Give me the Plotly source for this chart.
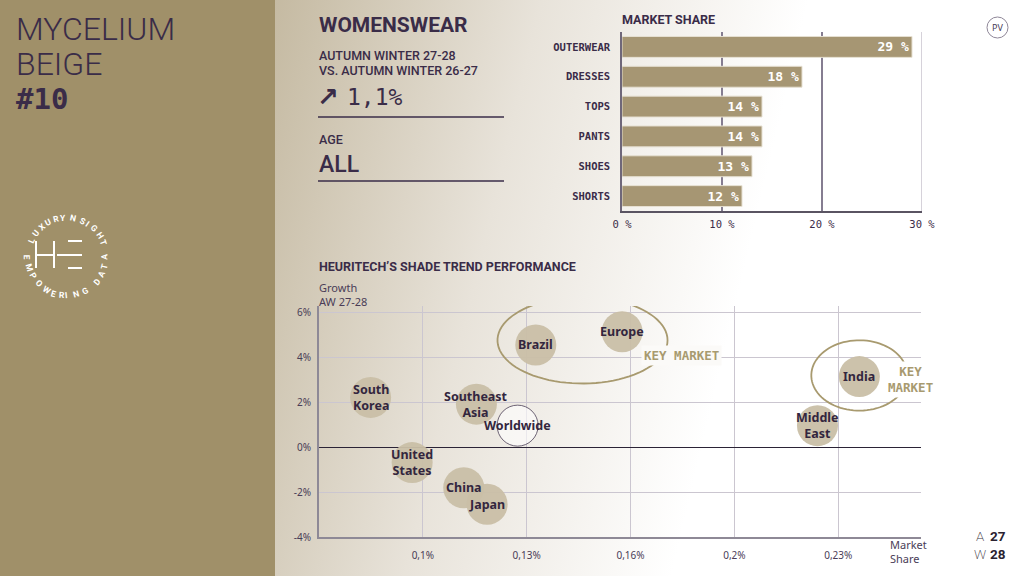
import base64
import numpy as np
import plotly.graph_objects as go

# ---- data ----
categories = ["OUTERWEAR", "DRESSES", "TOPS", "PANTS", "SHOES", "SHORTS"]
market_share = [29, 18, 14, 14, 13, 12]

regions = ["South<br>Korea", "United<br>States", "Southeast<br>Asia", "China", "Japan",
           "Brazil", "Europe", "Middle<br>East", "India"]
region_share = [0.0839, 0.0967, 0.1165, 0.1126, 0.1198, 0.1348, 0.1614, 0.2216, 0.2345]
region_growth = [2.23, -0.68, 1.93, -1.80, -2.54, 4.57, 5.16, 0.97, 3.16]
worldwide_share = 0.1292
worldwide_growth = 0.97

share_ticks = [0.1, 0.132, 0.164, 0.196, 0.228]
share_labels = ["0,1%", "0,13%", "0,16%", "0,2%", "0,23%"]
growth_ticks = [-4, -2, 0, 2, 4, 6]
growth_labels = ["-4%", "-2%", "0%", "2%", "4%", "6%"]
bar_ticks = [0, 10, 20, 30]
bar_labels = ["0 %", "10 %", "20 %", "30 %"]

# ---- style ----
W, H = 1024, 576
DARK = "#3a2c48"
PANEL = "#a09069"
BAR = "#a69673"
BUBBLE = "#c9bfa7"
GOLD = "#a89a6f"
SANS = "Roboto"
MONO = "DejaVu Sans Mono"
LABEL = "Noto Sans"


def px(x):
    return x / W


def py(y):
    return 1 - y / H


fig = go.Figure()

# market share bars
fig.add_trace(go.Bar(
    x=market_share, y=categories, orientation="h",
    marker=dict(color=BAR, line=dict(color="#e6e0d2", width=1)),
    texttemplate="%{x} %", textposition="inside", insidetextanchor="end",
    textangle=0, constraintext="none",
    textfont=dict(family=MONO, size=13, color="white", weight="bold"),
    xaxis="x", yaxis="y", hoverinfo="skip",
))

# bubbles
fig.add_trace(go.Scatter(
    x=region_share, y=region_growth, mode="markers",
    marker=dict(size=41, color=BUBBLE, opacity=0.95, line=dict(width=0)),
    xaxis="x2", yaxis="y2", hoverinfo="skip",
))
fig.add_trace(go.Scatter(
    x=[worldwide_share], y=[worldwide_growth], mode="markers",
    marker=dict(size=41, color="rgba(255,255,255,0.6)", line=dict(color="#4a3f55", width=0.8)),
    xaxis="x2", yaxis="y2", hoverinfo="skip",
))

# background gradient as svg image
svg = ('<svg xmlns="http://www.w3.org/2000/svg" width="1024" height="576" viewBox="0 0 1024 576" '
       'preserveAspectRatio="none"><defs><linearGradient id="g" gradientUnits="userSpaceOnUse" '
       'x1="275" y1="0" x2="780" y2="120"><stop offset="0" stop-color="#c5baa2"/>'
       '<stop offset="0.5" stop-color="#e8e3da"/><stop offset="1" stop-color="#ffffff"/>'
       '</linearGradient></defs><rect x="0" y="0" width="1024" height="576" fill="url(#g)"/></svg>')
bg_uri = "data:image/svg+xml;base64," + base64.b64encode(svg.encode()).decode()

shapes = []
# left panel
shapes.append(dict(type="rect", xref="paper", yref="paper", x0=0, x1=px(275), y0=0, y1=1,
                   fillcolor=PANEL, line=dict(width=0), layer="below"))
# header rules
for yy in [117, 181]:
    shapes.append(dict(type="line", xref="paper", yref="paper", x0=px(318), x1=px(504),
                       y0=py(yy), y1=py(yy), line=dict(color=DARK, width=1.5)))
# light gridline at 30 %
shapes.append(dict(type="line", xref="x", yref="y domain", x0=30, x1=30, y0=0, y1=1,
                   line=dict(color="#d6d2da", width=2)))
# PV badge
shapes.append(dict(type="circle", xref="paper", yref="paper", x0=px(987), x1=px(1008),
                   y0=py(38), y1=py(17), line=dict(color="#8f8798", width=1)))


# key market ellipses
def ellipse_path(cx, cy, rx, ry, n=90):
    t = np.linspace(0, 2 * np.pi, n)
    xs = cx + rx * np.cos(t)
    ys = cy + ry * np.sin(t)
    return "M " + " L ".join(f"{a},{b}" for a, b in zip(xs, ys)) + " Z"


shapes.append(dict(type="path", xref="x2", yref="y2",
                   path=ellipse_path(0.1492, 4.78, 0.0262, 1.93),
                   line=dict(color=GOLD, width=1.8)))
shapes.append(dict(type="path", xref="x2", yref="y2",
                   path=ellipse_path(0.2345, 3.21, 0.0148, 1.57),
                   line=dict(color=GOLD, width=1.8)))

# HE logo lines
logo_lines = [(36, 241, 36, 268), (36, 255, 54, 255), (54, 241, 54, 268),
              (68, 241, 82, 241), (57, 255, 82, 255), (68, 268, 82, 268)]
for x0, y0, x1, y1 in logo_lines:
    shapes.append(dict(type="line", xref="paper", yref="paper", x0=px(x0), x1=px(x1),
                       y0=py(y0), y1=py(y1), line=dict(color="white", width=2)))

ann = []

# bubble labels
label_font = dict(family=LABEL, size=12.5, color="#33263e", weight="bold")
for name, sx, gy in zip(regions + ["Worldwide"], region_share + [worldwide_share],
                        region_growth + [worldwide_growth]):
    ann.append(dict(x=sx, y=gy, xref="x2", yref="y2", text=name, showarrow=False,
                    font=label_font))


def text(x, y, s, size, color=DARK, family=SANS, weight="normal", xanchor="left", **kw):
    ann.append(dict(x=px(x), y=py(y), xref="paper", yref="paper", text=s, showarrow=False,
                    xanchor=xanchor, yanchor="middle", align=xanchor if xanchor != "center" else "center",
                    font=dict(family=family, size=size, color=color, weight=weight), **kw))


text(14, 29, "MYCELIUM", 32, weight=300)
text(14, 64, "BEIGE", 32, weight=300)
text(14, 99, "#10", 29, family=MONO, weight="bold")

text(317, 25, "WOMENSWEAR", 21, weight="bold")
text(317, 56, "AUTUMN WINTER 27-28", 12.5, weight=500)
text(317, 70, "VS. AUTUMN WINTER 26-27", 12.5, weight=500)
text(315, 97, "↗", 26, family="DejaVu Sans", weight="bold")
text(345, 97, "1,1%", 23, family=MONO)
text(317, 139, "AGE", 12.5, weight=500)
text(317, 164, "ALL", 23, weight=500)

text(620, 20, "MARKET SHARE", 12.5, weight="bold")
text(317, 266, "HEURITECH’S SHADE TREND PERFORMANCE", 12.5, weight="bold")
text(317, 294, "Growth<br>AW 27-28", 11, color="#4a3d57", family=LABEL)
text(888, 551, "Market<br>Share", 11, color="#4a3d57", family=LABEL)

text(641, 355, "KEY MARKET", 12.5, color=GOLD, family=MONO, weight="bold",
     bgcolor="#fbfaf8", borderpad=2)
text(910, 379, "KEY<br>MARKET", 12.5, color=GOLD, family=MONO, weight="bold",
     xanchor="center", bgcolor="#ffffff", borderpad=2)

text(997.5, 27.5, "PV", 9, color="#4a3d57", family=LABEL, xanchor="center")

# season badge
text(980, 545, "A<br>W", 13.5, color="#3a3440", weight=200, xanchor="center")
text(998, 545, "27<br>28", 13.5, color="#2a2230", weight="bold", xanchor="center")


# circular logo text, spaced by rough glyph widths
def glyph_w(ch):
    return {"I": 0.45, " ": 0.6, "M": 1.25, "W": 1.3}.get(ch, 1.0)


def ring(word, start, span, sign, rot):
    widths = [glyph_w(c) for c in word]
    total = sum(widths) - (widths[0] + widths[-1]) / 2
    acc = 0
    for i, ch in enumerate(word):
        if i > 0:
            acc += (widths[i - 1] + widths[i]) / 2
        th = start + sign * span * acc / total
        t = np.deg2rad(th)
        ann.append(dict(x=px(58.5 + 39 * np.cos(t)), y=py(256.5 - 39 * np.sin(t)),
                        xref="paper", yref="paper", text=ch, showarrow=False,
                        textangle=rot - th,
                        font=dict(family=SANS, size=8.5, color="white", weight="bold")))


ring("LUXURYNSIGHT", 156, 136, -1, 90)
ring("EMPOWERING DATA", 181, 178, 1, 270)

fig.update_layout(
    width=W, height=H, margin=dict(l=0, r=0, t=0, b=0, pad=0, autoexpand=False),
    paper_bgcolor="white", plot_bgcolor="rgba(0,0,0,0)",
    showlegend=False, bargap=0.3,
    images=[dict(source=bg_uri, xref="paper", yref="paper", x=0, y=1, sizex=1, sizey=1,
                 xanchor="left", yanchor="top", sizing="stretch", layer="below")],
    shapes=shapes, annotations=ann,
    xaxis=dict(domain=[px(622), px(922)], range=[0, 30], anchor="y", automargin=False,
               tickvals=bar_ticks, ticktext=bar_labels, showgrid=True, gridcolor="#857d91",
               gridwidth=1.5, zeroline=False, showline=True, linecolor="#5a5462", linewidth=1.5,
               tickfont=dict(family=MONO, size=10.5, color=DARK), ticklabelstandoff=3),
    yaxis=dict(domain=[py(211), py(32)], anchor="x", categoryorder="array", automargin=False,
               categoryarray=categories[::-1], showgrid=False, showline=True,
               linecolor="#6f6779", linewidth=1.5,
               tickfont=dict(family=MONO, size=10.5, color=DARK, weight="bold"), ticklabelstandoff=8),
    xaxis2=dict(domain=[px(319), px(921)], range=[0.068, 0.2535], anchor="y2", automargin=False,
                tickvals=share_ticks, ticktext=share_labels, showgrid=True, gridcolor="#cbc6d0",
                zeroline=False, showline=True, linecolor="#8e8996", linewidth=2,
                tickfont=dict(family=LABEL, size=10, color="#4a3d57"), ticklabelstandoff=8),
    yaxis2=dict(domain=[py(537), py(306)], range=[-4, 6.31], anchor="x2", automargin=False,
                tickvals=growth_ticks, ticktext=growth_labels, showgrid=True, gridcolor="#cbc6d0",
                zeroline=True, zerolinecolor="#2b2336", zerolinewidth=1.3,
                showline=True, linecolor="#8e8996", linewidth=2,
                tickfont=dict(family=LABEL, size=10, color="#4a3d57"), ticklabelstandoff=4),
)

fig.write_html("out.html", config={"displayModeBar": False},
               post_script="document.body.style.margin='0';document.body.style.overflow='hidden';")
